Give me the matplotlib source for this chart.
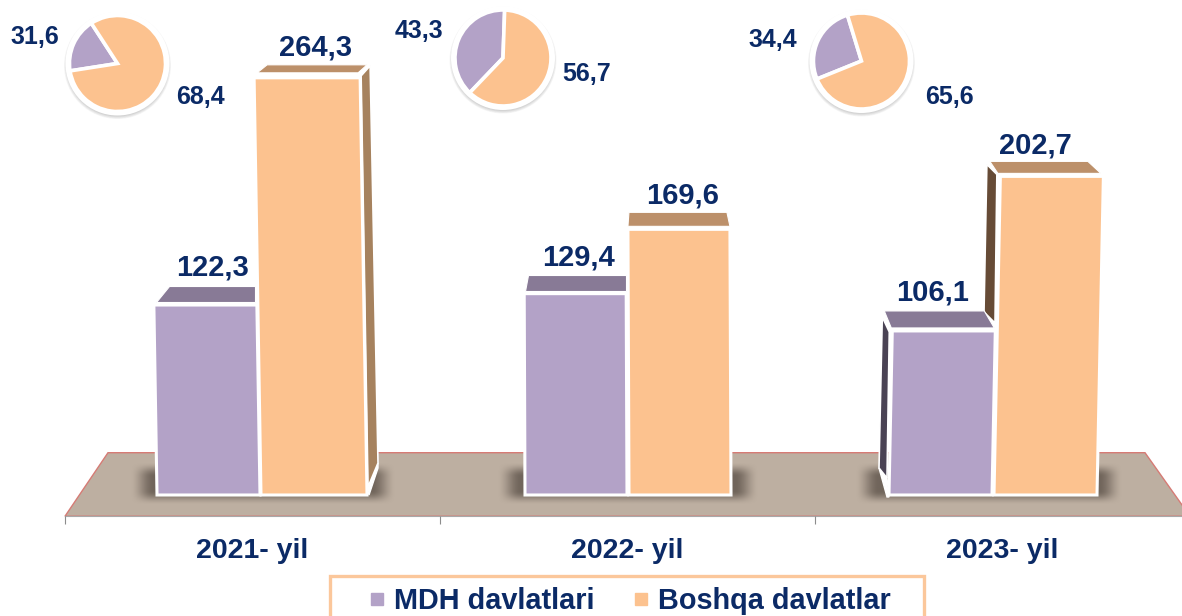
import matplotlib
matplotlib.use("Agg")
import matplotlib.pyplot as plt
import numpy as np
from matplotlib.patches import Polygon, Rectangle, Circle
from matplotlib.lines import Line2D
from matplotlib.colors import to_rgb

years = ["2021- yil", "2022- yil", "2023- yil"]
series_names = ["MDH davlatlari", "Boshqa davlatlar"]
mdh_values = [122.3, 129.4, 106.1]
boshqa_values = [264.3, 169.6, 202.7]
pie_labels_mdh = ["31,6", "43,3", "34,4"]
pie_labels_boshqa = ["68,4", "56,7", "65,6"]
# slice sizes as drawn in the picture (they differ from the printed percentages)
pie_drawn_mdh = [18.3, 38.4, 26.4]
pie_drawn_boshqa = [81.7, 61.6, 73.6]
pie_start_angles = [123, 88, 107]

PURPLE, ORANGE = "#B3A2C7", "#FCC28F"
PURPLE_TOP, ORANGE_TOP = "#887A96", "#BC906A"
ORANGE_SIDE, ORANGE_DARK, PURPLE_DARK = "#A6825E", "#664B36", "#4A4354"
NAVY = "#0B2A66"
FLOOR, FLOOR_EDGE = "#BDAFA1", "#D67B75"
FONT = "Liberation Sans"

W, H = 1182, 616
PX_X = 375.0      # pixels per category
PX_Y = 1.6        # pixels per value unit
ZERO_Y = 500.7    # pixel row of value 0
BASE = (ZERO_Y - 495) / PX_Y   # value at which the bars meet the floor

fig = plt.figure(figsize=(W / 100, H / 100), dpi=100)
ax = fig.add_axes([0, 0, 1, 1], zorder=3)
ax.patch.set_alpha(0)
XLIM = (-252.5 / PX_X, (W - 252.5) / PX_X)
YLIM = (-(H - ZERO_Y) / PX_Y, ZERO_Y / PX_Y)


def P(i, off, val, up=0.0):
    """Category i shifted off px sideways; value val shifted up px upwards."""
    return (i + off / PX_X, val + up / PX_Y)


# --- floor ------------------------------------------------------------
floor_low, floor_high = -9.7, 30.0
floor = [P(0, 65 - 252.5, floor_low), P(0, 108 - 252.5, floor_high),
         P(0, 1145 - 252.5, floor_high), P(0, 1190 - 252.5, floor_low)]
ax.add_patch(Polygon(floor, closed=True, facecolor=FLOOR, edgecolor=FLOOR_EDGE,
                     linewidth=1.0, zorder=1))

# --- soft shadows -----------------------------------------------------
shadow_spans = [(130, 396), (497, 758), (855, 1123)]
rgb = to_rgb("#3E342D")
for a, b in shadow_spans:
    nx, ny = int(b - a), 42
    xs = np.arange(nx) + 0.5
    ys = np.arange(ny) + 0.5
    fx = np.clip(np.minimum(xs, nx - xs) / 24.0, 0, 1)
    fy = np.clip(np.minimum(ys, ny - ys) / 14.0, 0, 1)
    fx = fx * fx * (3 - 2 * fx)
    fy = fy * fy * (3 - 2 * fy)
    img = np.zeros((ny, nx, 4))
    img[..., :3] = rgb
    img[..., 3] = 0.6 * np.outer(fy, fx)
    x0 = P(0, a - 252.5, BASE)[0]
    x1 = P(0, b - 252.5, BASE)[0]
    y0 = P(0, 0, BASE, -10)[1]
    y1 = P(0, 0, BASE, 32)[1]
    ax.imshow(img, extent=(x0, x1, y0, y1), aspect="auto", origin="lower",
              interpolation="bilinear", zorder=2)

# --- bars -------------------------------------------------------------
lean = [-0.0165, -0.004, 0.02]
bar_left = [[-95.5, 8.5], [-102.5, 1.5], [-113.5, -8.5]]
bar_width = [[103, 106], [102, 102], [103, 103]]
top_faces = [  # front-left, front-right, back-left, back-right shifts; gap, back
    [(2, -2, 15, -2, 3, 19), (3, -2, 13, 7, 5, 13)],
    [(1, 0, 4, 0, 3, 19), (0, 0, 1, -3, 3, 17)],
    [(-1, -1, -8, -11, 3, 20), (-2.5, -2.5, -10.5, -15.5, 3, 15)],
]
label_up = [[40, 32], [38, 36], [40, 33]]
label_shift = [[-40.5, 62.5], [-49.5, 55.5], [-69.5, 32.5]]

all_values = [mdh_values, boshqa_values]
fronts, tops = [PURPLE, ORANGE], [PURPLE_TOP, ORANGE_TOP]

for i in range(3):
    for s in (1, 0):  # the far bar first
        v = all_values[s][i]
        l, w = bar_left[i][s], bar_width[i][s]
        shift = lean[i] * (v - BASE) * PX_Y
        fl, fr = l + shift, l + w + shift
        # side faces
        if i == 0 and s == 1:
            ax.add_patch(Polygon([P(i, l + w, BASE, 8), P(i, l + w + 11, BASE, 32),
                                  P(i, l + w + 11, BASE, 27), P(i, l + w + 2, BASE, 0)],
                                 facecolor="white", edgecolor="white", lw=1, zorder=3))
            ax.add_patch(Polygon([P(i, fr + 1, v, 2), P(i, fr + 10, v, 12),
                                  P(i, l + w + 11, BASE, 32), P(i, l + w + 1, BASE, 8)],
                                 facecolor=ORANGE_SIDE, edgecolor="white", lw=1.2, zorder=3))
        if i == 2 and s == 1:
            ax.add_patch(Polygon([P(i, fl - 3.5, v, 2), P(i, fl - 13.5, v, 12),
                                  P(i, l - 10, BASE, 183), P(i, l + 1, BASE, 172)],
                                 facecolor=ORANGE_DARK, edgecolor="white", lw=1.2, zorder=3))
        if i == 2 and s == 0:
            ax.add_patch(Polygon([P(i, l - 10, BASE, 27), P(i, l - 2, BASE, 17),
                                  P(i, l, BASE, -2), P(i, l - 2, BASE, -2)],
                                 facecolor="white", edgecolor="white", lw=1, zorder=4))
            ax.add_patch(Polygon([P(i, fl - 3, v, -1), P(i, fl - 10, v, 14),
                                  P(i, l - 10, BASE, 27), P(i, l - 2, BASE, 17)],
                                 facecolor=PURPLE_DARK, edgecolor="white", lw=1.2, zorder=4))
        # top face
        a, b, c, d, gap, back = top_faces[i][s]
        z = 4 + s * -0.5
        ax.add_patch(Polygon([P(i, fl + a, v, gap), P(i, fr + b, v, gap),
                              P(i, fr + d, v, back), P(i, fl + c, v, back)],
                             facecolor=tops[s], edgecolor="white", lw=0.8, zorder=z))
        # front face
        ax.add_patch(Polygon([P(i, l, BASE), P(i, l + w, BASE), P(i, fr, v), P(i, fl, v)],
                             facecolor=fronts[s], edgecolor="white", lw=2.2,
                             joinstyle="miter", zorder=z + 0.2))
        lx, ly = P(i, label_shift[i][s], v, label_up[i][s] - 2)
        ax.text(lx, ly, f"{v:.1f}".replace(".", ","), ha="center", va="center",
                fontsize=21, fontweight="bold", color=NAVY, family=FONT, zorder=6)

# --- axis -------------------------------------------------------------
for name, sp in ax.spines.items():
    sp.set_visible(name == "bottom")
ax.spines["bottom"].set_position(("data", floor_low))
ax.spines["bottom"].set_bounds(-0.5, 2.5)
ax.spines["bottom"].set_color("#A8A8A8")
ax.spines["bottom"].set_linewidth(0.8)
ax.spines["bottom"].set_zorder(1.5)
ax.set_yticks([])
ax.set_xticks(range(3))
ax.set_xticklabels(years, family=FONT, fontweight="bold", fontsize=20.5, color=NAVY)
ax.set_xticks([-0.5, 0.5, 1.5, 2.5], minor=True)
ax.tick_params(axis="x", which="major", length=0, pad=16)
ax.tick_params(axis="x", which="minor", length=6, color="#8C8C8C", width=0.8)
ax.set_xlim(*XLIM)
ax.set_ylim(*YLIM)

# --- pies -------------------------------------------------------------
pie_centres = [(117.5, 63.5), (503, 58), (861.5, 61)]
pie_text_mdh = [(35, 37), (419, 31), (773, 40)]
pie_text_boshqa = [(200, 97), (587, 74), (949, 97)]
BOX = 130
for i, (cx, cy) in enumerate(pie_centres):
    pa = fig.add_axes([(cx - BOX / 2) / W, 1 - (cy + BOX / 2) / H, BOX / W, BOX / H], zorder=2)
    pa.patch.set_alpha(0)
    for k in range(6):
        pa.add_patch(Circle((0, -2), 53.5 - k * 0.6, facecolor="#5A5A5A",
                            edgecolor="none", alpha=0.05, zorder=0))
    pa.add_patch(Circle((0, 0), 52, facecolor="white", edgecolor="none", zorder=1))
    wedges, _ = pa.pie([pie_drawn_mdh[i], pie_drawn_boshqa[i]], colors=[PURPLE, ORANGE],
                       startangle=pie_start_angles[i], counterclock=True, radius=48,
                       explode=(0.05, 0), center=(0, 0), frame=True,
                       wedgeprops=dict(edgecolor="white", linewidth=2.6))
    for wd in wedges:
        wd.set_zorder(2)
    pa.set_xlim(-BOX / 2, BOX / 2)
    pa.set_ylim(-BOX / 2, BOX / 2)
    pa.set_aspect("equal")
    pa.axis("off")
    for (tx, ty), txt in ((pie_text_mdh[i], pie_labels_mdh[i]),
                          (pie_text_boshqa[i], pie_labels_boshqa[i])):
        fig.text(tx / W, 1 - ty / H, txt, ha="center", va="center", fontsize=18,
                 fontweight="bold", color=NAVY, family=FONT)

# --- legend -----------------------------------------------------------
# frame runs off the bottom of the picture, as in the reference
ax.add_patch(Rectangle((330 / W, 1 - 640 / H), 594 / W, 64 / H, transform=fig.transFigure,
                       facecolor="white", edgecolor="#FBC79B", linewidth=2.4, zorder=6,
                       clip_on=False))
handles = [Line2D([], [], linestyle="none", marker="s", markersize=8, color=c, label=n)
           for c, n in zip(fronts, series_names)]
leg = ax.legend(handles=handles, ncol=2, loc="upper left",
                bbox_to_anchor=(328.5 / W, 1 - 575 / H), bbox_transform=fig.transFigure,
                borderaxespad=0, frameon=False, labelcolor=NAVY, borderpad=0.42,
                handlelength=2.5, handletextpad=-0.65, columnspacing=0.36,
                prop=dict(family=FONT, weight="bold", size=20.8))
leg.set_zorder(7)

fig.savefig("out.png", dpi=100)
